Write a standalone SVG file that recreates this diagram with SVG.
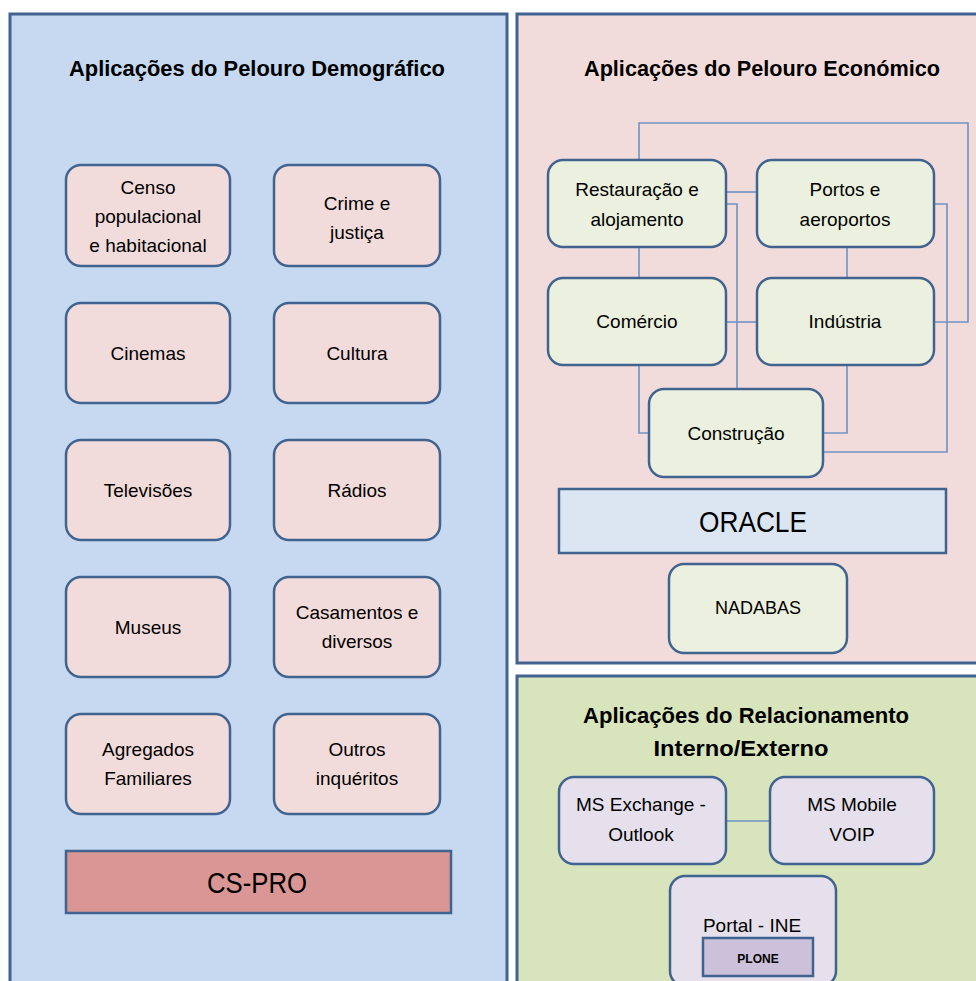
<svg xmlns="http://www.w3.org/2000/svg" width="976" height="981" viewBox="0 0 976 981">
<style>
text{font-family:"Liberation Sans",Arial,sans-serif;fill:#000;text-anchor:middle}
.panel{stroke:#41638f;stroke-width:3}
.node{stroke:#41638f;stroke-width:2.5}
.pink{fill:#f2dcdb}
.green{fill:#ebf1de}
.lav{fill:#e5e0ec}
.t{font-size:19px}
.title{font-size:21.5px;font-weight:bold}
.conn{fill:none;stroke:#6f92c4;stroke-width:1.6}
</style>
<rect width="976" height="981" fill="#ffffff"/>
<g id="panel-demografico">
<rect class="panel" x="10" y="14" width="497" height="990" fill="#c6d9f0"/>
<text class="title" x="257" y="76" textLength="376" lengthAdjust="spacingAndGlyphs">Aplicações do Pelouro Demográfico</text>
</g>
<g id="panel-economico">
<rect class="panel" x="517" y="14" width="470" height="649" fill="#f2dcdb"/>
<text class="title" x="762" y="76" textLength="356" lengthAdjust="spacingAndGlyphs">Aplicações do Pelouro Económico</text>
</g>
<g id="panel-relacionamento">
<rect class="panel" x="517" y="676" width="470" height="330" fill="#d7e4bc"/>
<text class="title" x="746" y="723" textLength="326" lengthAdjust="spacingAndGlyphs">Aplicações do Relacionamento</text>
<text class="title" x="741" y="756" textLength="175" lengthAdjust="spacingAndGlyphs">Interno/Externo</text>
</g>
<g id="connectors">
<path class="conn" d="M639,160 V123 H968 V322 H934"/>
<path class="conn" d="M726,192 H757"/>
<path class="conn" d="M726,204 H737 V389"/>
<path class="conn" d="M639,247 V278"/>
<path class="conn" d="M847,247 V278"/>
<path class="conn" d="M934,204 H947 V452 H823"/>
<path class="conn" d="M726,322 H757"/>
<path class="conn" d="M639,365 V433 H649"/>
<path class="conn" d="M847,365 V433 H823"/>
<path class="conn" d="M726,821 H770"/>
</g>
<g id="censo"><rect class="node pink" x="66" y="165" width="164" height="101" rx="15"/>
<text class="t" x="148" y="194">Censo</text><text class="t" x="148" y="223">populacional</text><text class="t" x="148" y="252">e habitacional</text></g>
<g id="crime"><rect class="node pink" x="274" y="165" width="166" height="101" rx="15"/>
<text class="t" x="357" y="210">Crime e</text><text class="t" x="357" y="239">justiça</text></g>
<g id="cinemas"><rect class="node pink" x="66" y="303" width="164" height="100" rx="15"/>
<text class="t" x="148" y="360">Cinemas</text></g>
<g id="cultura"><rect class="node pink" x="274" y="303" width="166" height="100" rx="15"/>
<text class="t" x="357" y="360">Cultura</text></g>
<g id="televisoes"><rect class="node pink" x="66" y="440" width="164" height="100" rx="15"/>
<text class="t" x="148" y="497">Televisões</text></g>
<g id="radios"><rect class="node pink" x="274" y="440" width="166" height="100" rx="15"/>
<text class="t" x="357" y="497">Rádios</text></g>
<g id="museus"><rect class="node pink" x="66" y="577" width="164" height="100" rx="15"/>
<text class="t" x="148" y="634">Museus</text></g>
<g id="casamentos"><rect class="node pink" x="274" y="577" width="166" height="100" rx="15"/>
<text class="t" x="357" y="619">Casamentos e</text><text class="t" x="357" y="648">diversos</text></g>
<g id="agregados"><rect class="node pink" x="66" y="714" width="164" height="100" rx="15"/>
<text class="t" x="148" y="756">Agregados</text><text class="t" x="148" y="785">Familiares</text></g>
<g id="outros"><rect class="node pink" x="274" y="714" width="166" height="100" rx="15"/>
<text class="t" x="357" y="756">Outros</text><text class="t" x="357" y="785">inquéritos</text></g>
<g id="cspro"><rect class="node" x="66" y="851" width="385" height="62" fill="#d99694"/>
<text x="257" y="893" style="font-size:29px" textLength="100" lengthAdjust="spacingAndGlyphs">CS-PRO</text></g>
<g id="restauracao"><rect class="node green" x="548" y="160" width="178" height="87" rx="15"/>
<text class="t" x="637" y="196">Restauração e</text><text class="t" x="637" y="226">alojamento</text></g>
<g id="portos"><rect class="node green" x="757" y="160" width="177" height="87" rx="15"/>
<text class="t" x="845" y="196">Portos e</text><text class="t" x="845" y="226">aeroportos</text></g>
<g id="comercio"><rect class="node green" x="548" y="278" width="178" height="87" rx="15"/>
<text class="t" x="637" y="328">Comércio</text></g>
<g id="industria"><rect class="node green" x="757" y="278" width="177" height="87" rx="15"/>
<text class="t" x="845" y="328">Indústria</text></g>
<g id="construcao"><rect class="node green" x="649" y="389" width="174" height="88" rx="15"/>
<text class="t" x="736" y="440">Construção</text></g>
<g id="oracle"><rect class="node" x="559" y="489" width="387" height="64" fill="#dce6f2"/>
<text x="753" y="532" style="font-size:30px" textLength="108" lengthAdjust="spacingAndGlyphs">ORACLE</text></g>
<g id="nadabas"><rect class="node green" x="669" y="564" width="178" height="89" rx="15"/>
<text x="758" y="614" style="font-size:18px">NADABAS</text></g>
<g id="msexchange"><rect class="node lav" x="559" y="777" width="167" height="87" rx="15"/>
<text class="t" x="641" y="811">MS Exchange -</text><text class="t" x="641" y="841">Outlook</text></g>
<g id="msmobile"><rect class="node lav" x="770" y="777" width="164" height="87" rx="15"/>
<text class="t" x="852" y="811">MS Mobile</text><text class="t" x="852" y="841">VOIP</text></g>
<g id="portal"><rect class="node lav" x="670" y="876" width="166" height="110" rx="15"/>
<text class="t" x="752" y="932">Portal - INE</text>
<rect class="node" x="703" y="938" width="110" height="38" fill="#ccc0da"/>
<text x="758" y="963" style="font-size:12px;font-weight:bold">PLONE</text></g>
</svg>
